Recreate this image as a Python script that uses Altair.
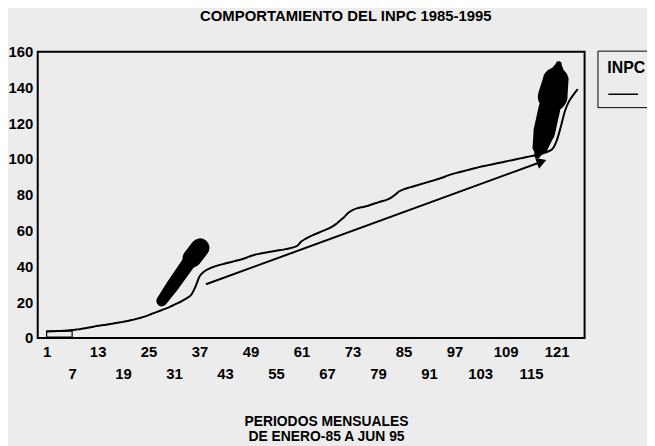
import altair as alt
import pandas as pd

# ---- data ----
periodos = list(range(1, 127))
inpc = [
    3.6, 3.7, 3.8, 3.9, 4.0, 4.2, 4.4, 4.7, 5.0, 5.4, 5.8, 6.3,          # 1985
    6.8, 7.1, 7.4, 7.8, 8.2, 8.6, 9.0, 9.5, 10.0, 10.6, 11.2, 11.9,      # 1986
    12.8, 13.7, 14.6, 15.5, 16.4, 17.4, 18.5, 19.6, 20.9, 22.3, 24.0, 28.5,  # 1987
    34.5, 37.0, 38.5, 39.5, 40.3, 41.0, 41.6, 42.2, 42.8, 43.4, 44.0, 44.8,  # 1988
    45.8, 46.5, 47.0, 47.5, 47.9, 48.3, 48.7, 49.1, 49.5, 50.0, 50.6, 51.5,  # 1989
    54.0, 55.5, 56.8, 57.8, 58.8, 59.8, 60.8, 62.0, 63.5, 65.5, 67.5, 70.0,  # 1990
    71.5, 72.4, 73.0, 73.5, 74.2, 75.0, 75.8, 76.5, 77.2, 78.3, 80.0, 82.0,  # 1991
    83.0, 83.8, 84.5, 85.2, 85.9, 86.6, 87.3, 88.0, 88.7, 89.5, 90.4, 91.3,  # 1992
    92.0, 92.6, 93.2, 93.8, 94.4, 95.0, 95.6, 96.1, 96.6, 97.1, 97.6, 98.1,  # 1993
    98.6, 99.1, 99.6, 100.1, 100.6, 101.1, 101.6, 102.1, 102.6, 103.3, 104.2, 105.5,  # 1994
    110.0, 118.0, 127.0, 132.5, 136.0, 139.0,                              # 1995
]
serie = "INPC"

# straight trend line drawn on the chart
tendencia_p = [38.5, 117.5]
tendencia_v = [30.0, 98.5]

# hand-drawn arrows (centre line and width in px)
flecha1_p = [28.1, 30.5, 34.5, 35.2, 37.1]
flecha1_v = [20.7, 28.8, 42.3, 44.5, 50.4]
flecha1_w = [11, 13, 14, 19, 19]

flecha2_p = [116.5, 117.2, 118.1, 119.3, 119.9, 120.1, 120.8, 121.5]
flecha2_v = [102.0, 107.0, 115.0, 128.0, 134.0, 135.0, 144.0, 153.0]
flecha2_w = [6, 16, 22, 22, 21, 30, 26, 6]

# small box at the start of the series
caja_p = [1, 7]
caja_v = [0.5, 3.8]

ticks_x_fila1 = list(range(1, 122, 12))   # 1, 13, ..., 121
ticks_x_fila2 = list(range(7, 116, 12))   # 7, 19, ..., 115
ticks_y = [0, 20, 40, 60, 80, 100, 120, 140, 160]

FONT = "Liberation Sans, Arial, sans-serif"
BG = "#ececec"

df = pd.DataFrame({"periodo": periodos, "valor": inpc, "serie": serie})
df_t = pd.DataFrame({"periodo": tendencia_p, "valor": tendencia_v})
df_h = df_t.tail(1)
df_a1 = pd.DataFrame({"periodo": flecha1_p, "valor": flecha1_v, "w": flecha1_w,
                      "i": list(range(len(flecha1_p)))})
df_a2 = pd.DataFrame({"periodo": flecha2_p, "valor": flecha2_v, "w": flecha2_w,
                      "i": list(range(len(flecha2_p)))})
df_c = pd.DataFrame({"periodo": [caja_p[0]], "periodo2": [caja_p[1]],
                     "valor": [caja_v[0]], "valor2": [caja_v[1]]})

xs = alt.Scale(domain=[-1.1, 127.6], nice=False, zero=False)
ys = alt.Scale(domain=[0, 160], nice=False, zero=False)

lab = dict(labelFont=FONT, labelFontSize=15, labelFontWeight="bold",
           labelColor="black", labelOverlap=False, labelFlush=False,
           grid=False, domain=False, ticks=False, tickSize=0)

xaxis1 = alt.Axis(
    values=ticks_x_fila1, orient="bottom", labelPadding=7, labelBaseline="top",
    titleFont=FONT, titleFontSize=14, titleFontWeight="bold", titleColor="black",
    titleX=291, titleY=77, titleBaseline="top", titleAlign="center",
    titleLineHeight=16, **lab)
xaxis2 = alt.Axis(values=ticks_x_fila2, orient="bottom", offset=22,
                  labelPadding=7, labelBaseline="top", title=None, **lab)
yaxis = alt.Axis(values=ticks_y, tickCount=9, labelPadding=5, title=None, **lab)

linea = alt.Chart(df).mark_line(interpolate="monotone", strokeWidth=2).encode(
    x=alt.X("periodo:Q", scale=xs, axis=xaxis1,
            title=["PERIODOS MENSUALES", "DE ENERO-85 A JUN 95"]),
    y=alt.Y("valor:Q", scale=ys, axis=yaxis),
    color=alt.Color("serie:N", scale=alt.Scale(domain=[serie], range=["black"]),
                    legend=alt.Legend(
                        title="INPC", orient="none", legendX=565, legendY=-1,
                        symbolType="stroke", symbolSize=900, symbolStrokeWidth=1.5,
                        labelExpr="''", labelFontSize=1,
                        titleFont=FONT, titleFontSize=16, titleFontWeight="bold",
                        titleColor="black", titlePadding=2,
                        strokeColor="black", fillColor=BG, padding=10,
                        cornerRadius=0)),
)

tendencia = alt.Chart(df_t).mark_line(color="black", strokeWidth=2).encode(
    x="periodo:Q", y=alt.Y("valor:Q", axis=yaxis))

punta = alt.Chart(df_h).mark_point(shape="triangle-up", filled=True, color="black",
                                   opacity=1, size=130, angle=70).encode(
    x="periodo:Q", y=alt.Y("valor:Q", axis=yaxis))

flecha1 = alt.Chart(df_a1).mark_trail(color="black").encode(
    x="periodo:Q", y=alt.Y("valor:Q", axis=yaxis),
    size=alt.Size("w:Q", scale=None), order="i:O")
flecha2 = alt.Chart(df_a2).mark_trail(color="black").encode(
    x="periodo:Q", y=alt.Y("valor:Q", axis=yaxis),
    size=alt.Size("w:Q", scale=None), order="i:O")

caja = alt.Chart(df_c).mark_rect(fill=None, stroke="black", strokeWidth=1.2).encode(
    x="periodo:Q", x2="periodo2:Q", y=alt.Y("valor:Q", axis=yaxis), y2="valor2:Q")

principal = alt.layer(linea, tendencia, punta, flecha1, flecha2, caja)

# second row of x labels (7, 19, ..., 115) on its own axis, same mapping
fila2 = alt.Chart(df).mark_point(opacity=0).encode(
    x=alt.X("periodo:Q", scale=xs, axis=xaxis2),
    y=alt.Y("valor:Q", scale=ys, axis=yaxis),
)

chart = alt.layer(principal, fila2).resolve_scale(x="independent").properties(
    width=552, height=289,
    autosize=alt.AutoSizeParams(type="none"),
    padding={"left": 30, "top": 42, "right": 63, "bottom": 108},
    background=BG,
    title=alt.Title("COMPORTAMIENTO DEL INPC 1985-1995", font=FONT, fontSize=15,
                    fontWeight="bold", color="black", anchor="middle", dx=35,
                    offset=9, baseline="alphabetic"),
).configure_view(stroke="black", strokeWidth=2, fill=BG
).configure_axisY(labelOverlap=False)

chart.save("out.html", embed_options={"renderer": "svg", "actions": False})
